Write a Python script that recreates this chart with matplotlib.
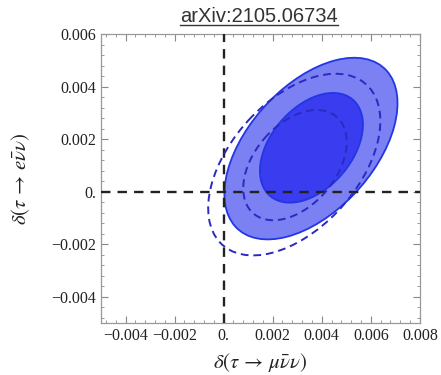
import numpy as np
import matplotlib
matplotlib.use("Agg")
import matplotlib.pyplot as plt
from matplotlib.patches import Ellipse
from matplotlib.ticker import MultipleLocator, FuncFormatter
from matplotlib.lines import Line2D

# contour values (units of 1e-3)
# filled fit: 2 sigma (outer) and 1 sigma (inner)
fill_cx = [3.56, 3.58]
fill_cy = [1.64, 1.67]
fill_ax = [3.53, 2.10]   # half extent in x
fill_ay = [3.46, 2.09]   # half extent in y
fill_rho = [0.50, 0.42]

# dashed fit: outer and inner
dash_cx = [2.88, 2.91]
dash_cy = [1.03, 1.01]
dash_ax = [3.51, 2.11]
dash_ay = [3.46, 2.10]
dash_rho = [0.48, 0.42]

x_ticks = [-0.004, -0.002, 0.0, 0.002, 0.004, 0.006, 0.008]
y_ticks = [-0.004, -0.002, 0.0, 0.002, 0.004, 0.006]
title = "arXiv:2105.06734"


def ellipse_params(cx, cy, ax_, ay_, rho):
    s = np.array([[ax_**2, rho * ax_ * ay_], [rho * ax_ * ay_, ay_**2]]) * 1e-6
    vals, vecs = np.linalg.eigh(s)
    angle = np.degrees(np.arctan2(vecs[1, 1], vecs[0, 1]))
    return (cx * 1e-3, cy * 1e-3), 2 * np.sqrt(vals[1]), 2 * np.sqrt(vals[0]), angle


plt.rcParams['mathtext.fontset'] = 'stix'
fig = plt.figure(figsize=(4.41, 3.75), dpi=100)
ax = fig.add_axes([0.229, 0.139, 0.723, 0.770])

fill_colors = ['#7b80f2', '#3a3cf0']
for i in range(2):
    c, w, h, a = ellipse_params(fill_cx[i], fill_cy[i], fill_ax[i], fill_ay[i], fill_rho[i])
    ax.add_patch(Ellipse(c, w, h, angle=a, facecolor=fill_colors[i],
                         edgecolor='#2236e6', lw=1.3, zorder=2))

ax.axhline(0, color='#222222', ls=(0, (4, 3)), lw=1.7, zorder=3)
ax.axvline(0, color='#222222', ls=(0, (4, 3)), lw=1.7, zorder=3)

for i in range(2):
    c, w, h, a = ellipse_params(dash_cx[i], dash_cy[i], dash_ax[i], dash_ay[i], dash_rho[i])
    ax.add_patch(Ellipse(c, w, h, angle=a, facecolor='none',
                         edgecolor='#2a2ac0', lw=1.4, ls=(0, (4, 2.5)), zorder=4))

ax.set_xlim(-0.005, 0.008)
ax.set_ylim(-0.005, 0.006)
ax.set_xticks(x_ticks)
ax.set_yticks(y_ticks)
ax.xaxis.set_minor_locator(MultipleLocator(0.0004))
ax.yaxis.set_minor_locator(MultipleLocator(0.0004))


def fmt(v, pos):
    if abs(v) < 1e-12:
        return "0."
    return f"{v:.3f}".replace("-", "\u2212")


ax.xaxis.set_major_formatter(FuncFormatter(fmt))
ax.yaxis.set_major_formatter(FuncFormatter(fmt))
ax.tick_params(which='both', direction='in', top=True, right=True,
               color='#888888', labelsize=11.5, labelcolor='#222222')
ax.tick_params(which='major', length=5, width=0.8)
ax.tick_params(which='minor', length=2.5, width=0.6)
for lab in ax.get_xticklabels() + ax.get_yticklabels():
    lab.set_fontfamily('Liberation Serif')
for sp in ax.spines.values():
    sp.set_color('#999999')
    sp.set_linewidth(0.9)

ax.set_xlabel(r'$\delta(\tau \,\rightarrow\, \mu\bar{\nu}\nu)$', fontsize=15, color='#222222', labelpad=5)
ax.set_ylabel(r'$\delta(\tau \,\rightarrow\, e\bar{\nu}\nu)$', fontsize=15, color='#222222', labelpad=14)

t = fig.text(0.588, 0.942, title, ha='center', va='baseline', fontsize=14.5,
             family='Liberation Sans', color='#333333')
fig.canvas.draw()
bb = t.get_window_extent().transformed(fig.transFigure.inverted())
fig.add_artist(Line2D([bb.x0, bb.x1], [0.934, 0.934], color='#333333', lw=1.0))

fig.savefig("out.png", dpi=100)
